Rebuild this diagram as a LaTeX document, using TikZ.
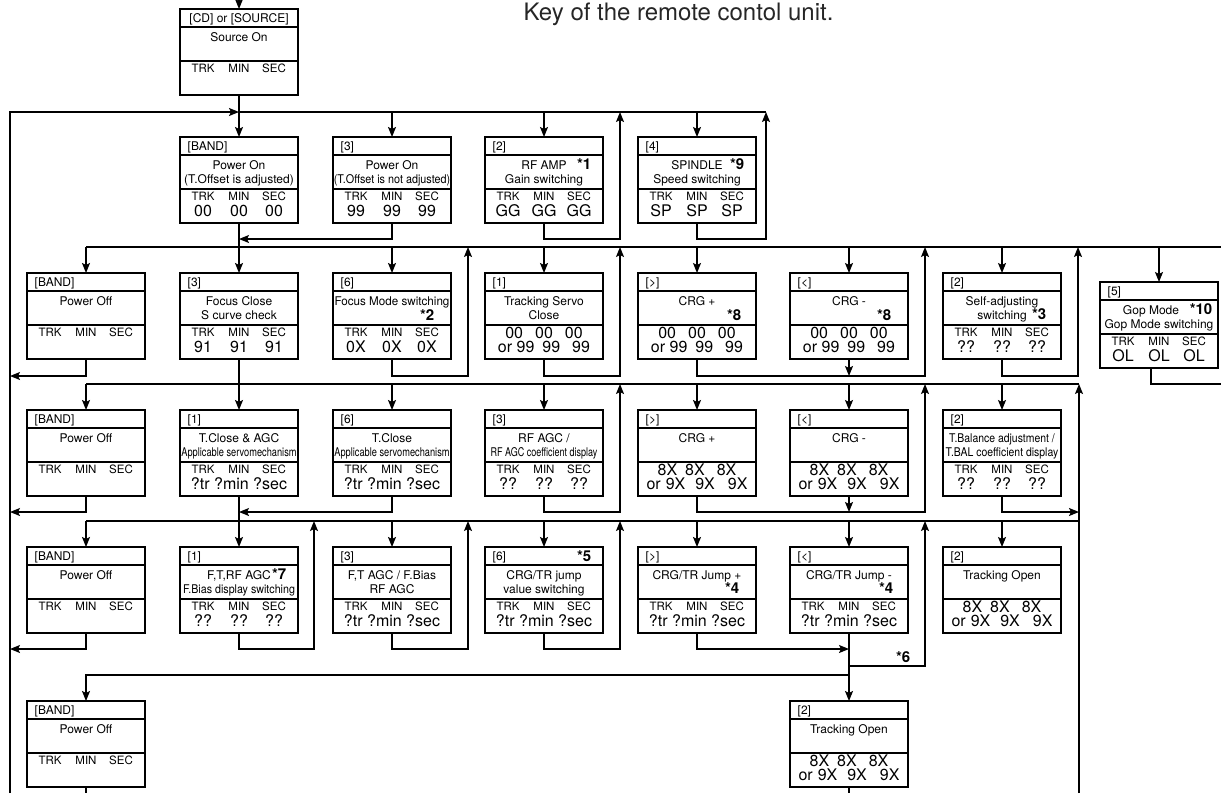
\documentclass[tikz,border=0pt]{standalone}
\usepackage{fontspec}
\setmainfont{TeX Gyre Heros}
\usepackage{graphicx}
\usetikzlibrary{arrows.meta,positioning,calc}

\newcommand{\squeeze}[2][0.8]{\scalebox{#1}[1]{#2}}

% display panel: key row, two lines of function text, readout area
\newcommand{\panel}[5]{%
	\node[panel] (#1) at (#2) {};
	\draw[rule] ([yshift=-18pt]#1.north west) -- ([yshift=-18pt]#1.north east);
	\draw[rule] ([yshift=34pt]#1.south west) -- ([yshift=34pt]#1.south east);
	\node[keytext] (#1-key) at ([xshift=7pt,yshift=-13pt]#1.north west) {#3};
	\node[fntext] (#1-a) at ([yshift=-32pt]#1.north) {#4};
	\node[fntext] (#1-b) at ([yshift=-46pt]#1.north) {#5};
}
% TRK / MIN / SEC readout
\newcommand{\readtrk}[4]{%
	\node[lbl] (#1-trk) at ([xshift=-36pt,yshift=-63pt]#1.north) {TRK};
	\node[lbl] (#1-min) at ([yshift=-63pt]#1.north) {MIN};
	\node[lbl] (#1-sec) at ([xshift=35pt,yshift=-63pt]#1.north) {SEC};
	\node[val] (#1-v1) at ([xshift=-36pt,yshift=-79pt]#1.north) {#2};
	\node[val] (#1-v2) at ([yshift=-79pt]#1.north) {#3};
	\node[val] (#1-v3) at ([xshift=35pt,yshift=-79pt]#1.north) {#4};
}
% same labels, values as one line
\newcommand{\readrow}[2]{%
	\readtrk{#1}{}{}{}
	\node[val] (#1-row) at ([yshift=-79pt]#1.north) {#2};
}
% two line readout
\newcommand{\readpair}[3]{%
	\node[val] (#1-p1) at ([yshift=-65pt]#1.north) {#2};
	\node[val] (#1-p2) at ([yshift=-79pt]#1.north) {#3};
}
\newcommand{\zeros}{00\hspace{12pt}00\hspace{12pt}00}
\newcommand{\nines}{or 99\hspace{8pt}99\hspace{12pt}99}
\newcommand{\eights}{8X\hspace{8pt}8X\hspace{12pt}8X}
\newcommand{\ninex}{or\hspace{5pt}9X\hspace{10pt}9X\hspace{13pt}9X}

\begin{document}
\begin{tikzpicture}[
	x=1pt, y=-1pt,
	line width=1.4pt,
	>={Stealth[length=10pt,width=8pt,inset=2pt]},
	panel/.style={
		draw,
		line width=1.5pt,
		minimum width=118pt,
		minimum height=86pt,
		inner sep=0pt,
		outer sep=0pt
	},
	rule/.style={line width=1.2pt},
	keytext/.style={anchor=base west, inner sep=0pt, font=\fontsize{12}{13}\selectfont},
	fntext/.style={anchor=base, inner sep=0pt, font=\fontsize{12}{13}\selectfont},
	lbl/.style={anchor=base, inner sep=0pt, font=\fontsize{11.5}{12}\selectfont},
	val/.style={anchor=base, inner sep=0pt, font=\fontsize{16}{17}\selectfont},
	note/.style={anchor=base east, inner sep=0pt, font=\fontsize{15}{16}\selectfont\bfseries},
	]
	\useasboundingbox (0,0) rectangle (1221,793);

	\node[anchor=base west, inner sep=0pt, font=\fontsize{24}{25}\selectfont, text=black!85] (title) at (523,20) {Key of the remote contol unit.};

	% source and power on
	\panel{src}{239,52}{}{Source On}{}
	\readtrk{src}{}{}{}
	\node[fntext] (src-key2) at ([yshift=-13pt]src.north) {[CD] or [SOURCE]};

	\panel{pon}{239,180}{[BAND]}{Power On}{(T.Offset is adjusted)}
	\readtrk{pon}{00}{00}{00}
	\panel{ponx}{392,180}{[3]}{Power On}{\squeeze[0.9]{(T.Offset is not adjusted)}}
	\readtrk{ponx}{99}{99}{99}
	\panel{rfamp}{544,180}{[2]}{RF AMP}{Gain switching}
	\readtrk{rfamp}{GG}{GG}{GG}
	\node[note] (n1) at ([xshift=-11pt,yshift=-32pt]rfamp.north east) {*1};
	\panel{spin}{697,180}{[4]}{SPINDLE}{Speed switching}
	\readtrk{spin}{SP}{SP}{SP}
	\node[note] (n9) at ([xshift=-11pt,yshift=-32pt]spin.north east) {*9};

	% second row
	\panel{off2}{86,316}{[BAND]}{Power Off}{}
	\readtrk{off2}{}{}{}
	\panel{focus}{239,316}{[3]}{Focus Close}{S curve check}
	\readtrk{focus}{91}{91}{91}
	\panel{fmode}{392,316}{[6]}{\squeeze[0.97]{Focus Mode switching}}{}
	\readtrk{fmode}{0X}{0X}{0X}
	\node[note] (n2) at ([xshift=-16pt,yshift=-47pt]fmode.north east) {*2};
	\panel{tsc}{544,316}{[1]}{Tracking Servo}{Close}
	\readpair{tsc}{\zeros}{\nines}
	\panel{crgpa}{697,316}{[>]}{CRG +}{}
	\readpair{crgpa}{\zeros}{\nines}
	\node[note] (n8a) at ([xshift=-14pt,yshift=-47pt]crgpa.north east) {*8};
	\panel{crgma}{849,316}{[<]}{CRG -}{}
	\readpair{crgma}{\zeros}{\nines}
	\node[note] (n8b) at ([xshift=-16pt,yshift=-47pt]crgma.north east) {*8};
	\panel{self}{1002,316}{[2]}{Self-adjusting}{switching}
	\readtrk{self}{??}{??}{??}
	\node[note] (n3) at ([xshift=-14pt,yshift=-46pt]self.north east) {*3};
	\panel{gop}{1159,325}{[5]}{Gop Mode\hspace*{16pt}}{Gop Mode switching}
	\readtrk{gop}{OL}{OL}{OL}
	\node[note] (n10) at ([xshift=-5pt,yshift=-32pt]gop.north east) {*10};

	% third row
	\panel{off3}{86,453}{[BAND]}{Power Off}{}
	\readtrk{off3}{}{}{}
	\panel{tcagc}{239,453}{[1]}{T.Close \& AGC}{\squeeze[0.77]{Applicable servomechanism}}
	\readrow{tcagc}{?tr ?min ?sec}
	\panel{tclose}{392,453}{[6]}{T.Close}{\squeeze[0.77]{Applicable servomechanism}}
	\readrow{tclose}{?tr ?min ?sec}
	\panel{rfagc}{544,453}{[3]}{RF AGC /}{\squeeze[0.75]{RF AGC coefficient display}}
	\readtrk{rfagc}{??}{??}{??}
	\panel{crgpb}{697,453}{[>]}{CRG +}{}
	\readpair{crgpb}{\eights}{\ninex}
	\panel{crgmb}{849,453}{[<]}{CRG -}{}
	\readpair{crgmb}{\eights}{\ninex}
	\panel{tbal}{1002,453}{[2]}{\squeeze[0.87]{T.Balance adjustment /}}{\squeeze[0.87]{T.BAL coefficient display}}
	\readtrk{tbal}{??}{??}{??}

	% fourth row
	\panel{off4}{86,590}{[BAND]}{Power Off}{}
	\readtrk{off4}{}{}{}
	\panel{ftrf}{239,590}{[1]}{F,T,RF AGC}{\squeeze[0.89]{F.Bias display switching}}
	\readtrk{ftrf}{??}{??}{??}
	\node[note] (n7) at ([xshift=-11pt,yshift=-32pt]ftrf.north east) {*7};
	\panel{ftagc}{392,590}{[3]}{F,T AGC / F.Bias}{RF AGC}
	\readrow{ftagc}{?tr ?min ?sec}
	\panel{jval}{544,590}{[6]}{CRG/TR jump}{value switching}
	\readrow{jval}{?tr ?min ?sec}
	\node[note] (n5) at ([xshift=-11pt,yshift=-14pt]jval.north east) {*5};
	\panel{jplus}{697,590}{[>]}{CRG/TR Jump +}{}
	\readrow{jplus}{?tr ?min ?sec}
	\node[note] (n4a) at ([xshift=-16pt,yshift=-46pt]jplus.north east) {*4};
	\panel{jminus}{849,590}{[<]}{CRG/TR Jump -}{}
	\readrow{jminus}{?tr ?min ?sec}
	\node[note] (n4b) at ([xshift=-14pt,yshift=-46pt]jminus.north east) {*4};
	\panel{topen}{1002,590}{[2]}{Tracking Open}{}
	\readpair{topen}{\eights}{\ninex}

	% last row
	\panel{off5}{86,744}{[BAND]}{Power Off}{}
	\readtrk{off5}{}{}{}
	\panel{topenb}{849,744}{[2]}{Tracking Open}{}
	\readpair{topenb}{\eights}{\ninex}

	% bus lines
	\coordinate (lb) at (10,793);
	\coordinate (bus1) at (766,112);
	\coordinate (bus2) at (1221,247);
	\coordinate (bus3) at (1079,384);
	\coordinate (bus4) at (1079,521);
	\coordinate (bus5) at (849,675);
	\coordinate (gopout) at (1221,384);

	\draw[<-] (src.north) -- ++(0,-9);
	\draw[->] (lb) |- (src.south |- bus1);
	\draw (src.south |- bus1) -- (bus1);
	\draw[->] (src) -- (pon);
	\foreach \n in {ponx,rfamp,spin} \draw[->] (\n.north |- bus1) -- (\n);
	\draw[->] (ponx.south) |- ($(pon.south)+(0,16)$);
	\draw[->] (rfamp.south) -- ++(0,16) -| ($(rfamp.east |- bus1)+(17,0)$);
	\draw[->] (spin.south) -- ++(0,16) -| (bus1);
	\draw (pon) -- (pon.south |- bus2);

	\draw (off2.north |- bus2) -- (bus2);
	\foreach \n in {off2,focus,fmode,tsc,crgpa,crgma,self,gop} \draw[->] (\n.north |- bus2) -- (\n);
	\draw[->] (off2.south) |- ($(lb |- off2.south)+(0,17)$);
	\draw[->] (fmode.south) -- ++(0,17) -| ($(fmode.east |- bus2)+(17,0)$);
	\draw[->] (tsc.south) -- ++(0,17) -| ($(tsc.east |- bus2)+(17,0)$);
	\draw[->] (crgpa.south) -- ++(0,17) -| ($(crgma.east |- bus2)+(17,0)$);
	\draw[->] (crgma.south) -- ++(0,17);
	\draw[->] (self.south) -- ++(0,17) -| ($(self.east |- bus2)+(17,0)$);
	\draw ([xshift=-8pt]gop.south) |- (gopout);
	\draw[->] (focus) -- (tcagc);

	\draw (off3.north |- bus3) -- (bus3);
	\foreach \n in {off3,tclose,rfagc,crgpb,crgmb,tbal} \draw[->] (\n.north |- bus3) -- (\n);
	\draw[->] (bus3 |- lb) -- (bus3);
	\draw[->] (off3.south) |- ($(lb |- off3.south)+(0,16)$);
	\draw[->] (tclose.south) |- ($(tcagc.south)+(0,16)$);
	\draw[->] (rfagc.south) -- ++(0,16) -| ($(rfagc.east |- bus3)+(17,0)$);
	\draw[->] (crgpb.south) -- ++(0,16) -| ($(crgmb.east |- bus3)+(17,0)$);
	\draw[->] (crgmb.south) -- ++(0,16);
	\draw[->] (tbal.south) |- ($(bus3 |- tbal.south)+(0,16)$);
	\draw[->] (tcagc) -- (ftrf);

	\draw (off4.north |- bus4) -- (bus4);
	\foreach \n in {off4,ftagc,jval,jplus,jminus,topen} \draw[->] (\n.north |- bus4) -- (\n);
	\draw[->] (off4.south) |- ($(lb |- off4.south)+(0,16)$);
	\draw[->] (ftrf.south) -- ++(0,16) -| ($(ftrf.east |- bus4)+(16,0)$);
	\draw[->] (ftagc.south) -- ++(0,16) -| ($(ftagc.east |- bus4)+(17,0)$);
	\draw[->] (jval.south) -- ++(0,16) -| ($(jval.east |- bus4)+(17,0)$);
	\draw[->] (jplus.south) |- ($(jminus.south)+(0,16)$);
	\draw[->] ($(jminus.south)+(0,33)$) -| ($(jminus.east |- bus4)+(17,0)$);
	\node[note] (n6) at ($(jminus.south)+(62,29)$) {*6};
	\draw[->] (jminus) -- (topenb);

	\draw[->] (bus5) -| (off5);
	\draw (off5) -- (off5 |- lb);
	\draw (topenb) -- (topenb |- lb);
\end{tikzpicture}
\end{document}
